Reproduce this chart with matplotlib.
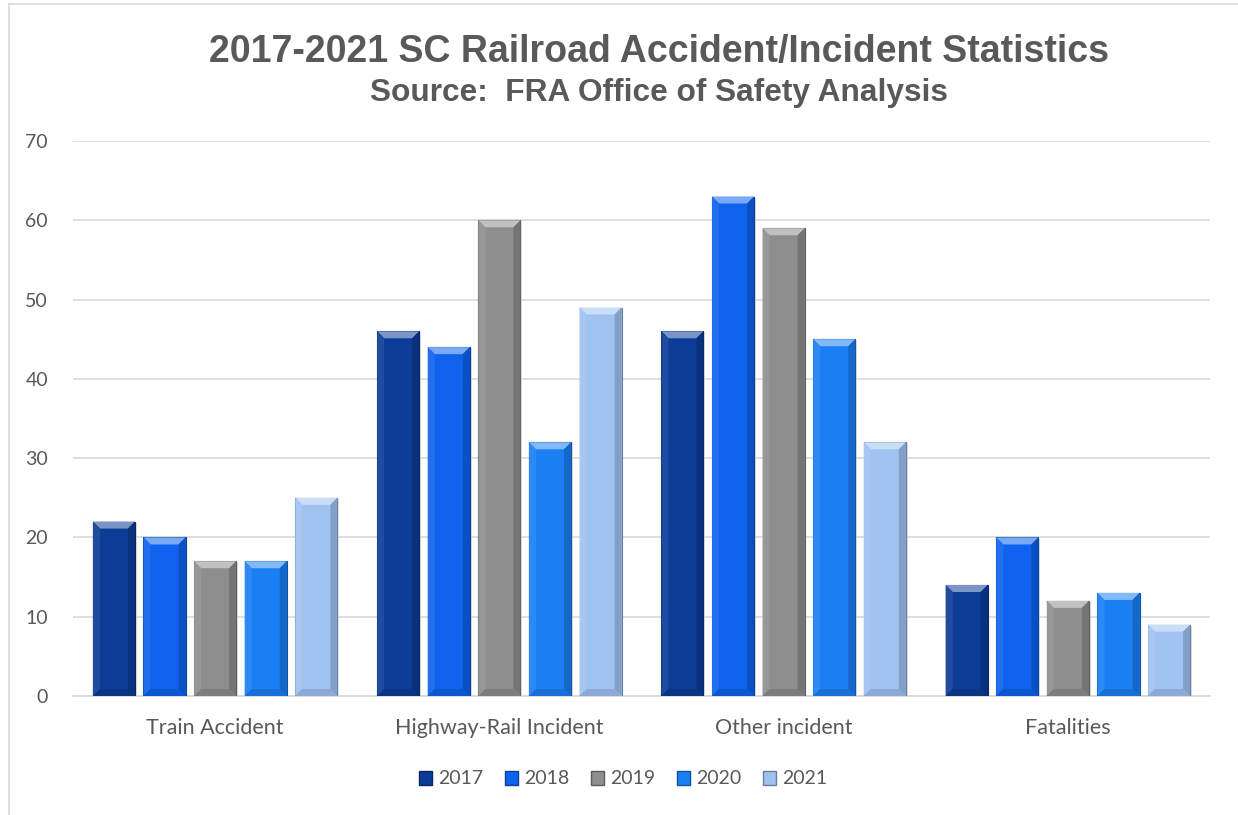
import numpy as np
import matplotlib.pyplot as plt
from matplotlib.patches import Polygon, Rectangle
from matplotlib.lines import Line2D
from matplotlib.colors import to_rgb

categories = ['Train Accident', 'Highway-Rail Incident', 'Other incident', 'Fatalities']
years = ['2017', '2018', '2019', '2020', '2021']
v2017 = [22, 46, 46, 14]
v2018 = [20, 44, 63, 20]
v2019 = [17, 60, 59, 12]
v2020 = [17, 32, 45, 13]
v2021 = [25, 49, 32, 9]
series = [v2017, v2018, v2019, v2020, v2021]
colors = ['#0b3c96', '#0e62ee', '#8e8e8e', '#1b7ff4', '#9fc2f1']

txt = '#595959'
W, H = 1238, 815
fig = plt.figure(figsize=(W / 100, H / 100), dpi=100)
ax = fig.add_axes([73 / W, 1 - 696 / H, (1210 - 73) / W, (696 - 141) / H])


def mix(c, other, t):
    c = np.array(to_rgb(c))
    o = np.array(to_rgb(other))
    return tuple(c * (1 - t) + o * t)


step = 0.178
bw = 0.148
bx = 7 / 284.25   # bevel size in data units (x)
by = 7 / 7.93     # bevel size in data units (y)

for i, vals in enumerate(series):
    col = colors[i]
    for j, v in enumerate(vals):
        x0 = j - 2 * step + i * step - bw / 2
        x1 = x0 + bw
        # shadow
        ax.add_patch(Rectangle((x0 + 0.006, 0), bw, v - 0.15, facecolor='#c8c8c8',
                               edgecolor='none', alpha=0.6, zorder=2))
        ax.add_patch(Rectangle((x0, 0), bw, v, facecolor=col,
                               edgecolor=mix(col, 'black', 0.35), lw=0.8, zorder=3))
        # bevel edges
        ax.add_patch(Polygon([(x0, v), (x1, v), (x1 - bx, v - by), (x0 + bx, v - by)],
                             closed=True, facecolor=mix(col, 'white', 0.45),
                             edgecolor='none', zorder=4))
        ax.add_patch(Polygon([(x0, 0), (x0, v), (x0 + bx, v - by), (x0 + bx, by)],
                             closed=True, facecolor=mix(col, 'white', 0.08),
                             edgecolor='none', zorder=4))
        ax.add_patch(Polygon([(x1, 0), (x1, v), (x1 - bx, v - by), (x1 - bx, by)],
                             closed=True, facecolor=mix(col, 'black', 0.18),
                             edgecolor='none', zorder=4))
        ax.add_patch(Polygon([(x0, 0), (x1, 0), (x1 - bx, by), (x0 + bx, by)],
                             closed=True, facecolor=mix(col, 'black', 0.12),
                             edgecolor='none', zorder=4))

ax.set_xlim(-0.5, 3.5)
ax.set_ylim(0, 70)
ax.set_yticks(range(0, 71, 10))
ax.set_xticks(range(4))
ax.set_xticklabels(categories)
ax.yaxis.grid(True, color='#d9d9d9', lw=1.2, zorder=0)
ax.set_axisbelow(True)
for s in ['top', 'right', 'left']:
    ax.spines[s].set_visible(False)
ax.spines['bottom'].set_color('#d9d9d9')
ax.spines['bottom'].set_linewidth(1.2)
ax.tick_params(length=0, labelsize=14, labelcolor=txt)
ax.tick_params(axis='x', pad=16, labelsize=15.5)
ax.tick_params(axis='y', pad=18)
for lab in ax.get_xticklabels() + ax.get_yticklabels():
    lab.set_fontfamily('Lato')

fig.text(659 / W, 1 - 52 / H, '2017-2021 SC Railroad Accident/Incident Statistics',
         ha='center', va='center', fontsize=27, fontweight='bold', color=txt,
         family='Liberation Sans')
fig.text(659 / W, 1 - 93 / H, 'Source:  FRA Office of Safety Analysis',
         ha='center', va='center', fontsize=22.8, fontweight='bold', color=txt,
         family='Liberation Sans')

handles = [Rectangle((0, 0), 1, 1, facecolor=c, edgecolor=mix(c, 'black', 0.35))
           for c in colors]
leg = fig.legend(handles, years, loc='center', bbox_to_anchor=(623 / W, 1 - 779 / H),
                 ncol=5, frameon=False, handlelength=0.7, handleheight=0.7,
                 handletextpad=0.3, columnspacing=1.1,
                 prop={'family': 'Lato', 'size': 14})
for t in leg.get_texts():
    t.set_color(txt)

# chart border
fig.add_artist(Line2D([9 / W, 1], [1 - 4 / H, 1 - 4 / H], color='#d9d9d9', lw=1.2))
fig.add_artist(Line2D([9 / W, 9 / W], [0, 1 - 4 / H], color='#d9d9d9', lw=1.2))

fig.savefig('out.png', dpi=100)
